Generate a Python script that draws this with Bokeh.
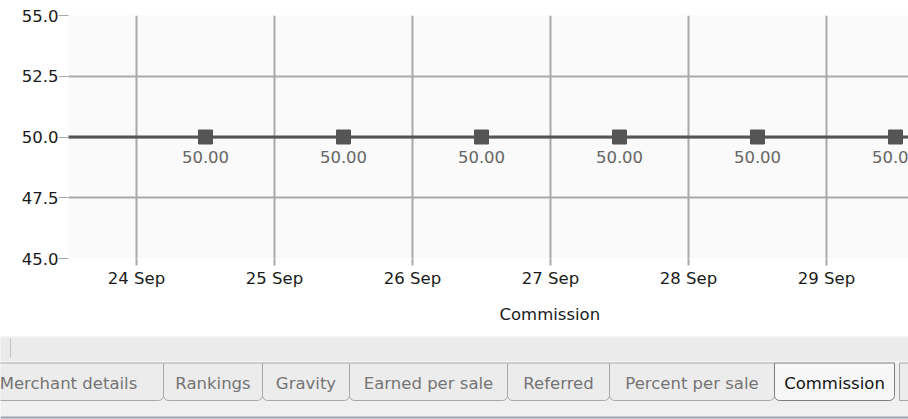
from datetime import datetime, timedelta

from bokeh.plotting import figure
from bokeh.layouts import column, row
from bokeh.models import (ColumnDataSource, Range1d, FixedTicker, DaysTicker,
                          DatetimeTickFormatter, PrintfTickFormatter, Title,
                          CDSView, BooleanFilter)
from bokeh.core.properties import value
from bokeh.embed import file_html
from bokeh.resources import INLINE

# ---------------- data ----------------
dates = ["2009-09-23 12:00", "2009-09-24 12:00", "2009-09-25 12:00",
         "2009-09-26 12:00", "2009-09-27 12:00", "2009-09-28 12:00",
         "2009-09-29 12:00", "2009-09-30 12:00"]
commission = [50.0, 50.0, 50.0, 50.0, 50.0, 50.0, 50.0, 50.0]
point_labels = ["50.00", "50.00", "50.00", "50.00", "50.00", "50.00",
                "50.00", "50.00"]
y_ticks = [45.0, 47.5, 50.0, 52.5, 55.0]
axis_title = "Commission"
tab_labels = ["Merchant details", "Rankings", "Gravity", "Earned per sale",
              "Referred", "Percent per sale", "Commission"]
selected_tab = "Commission"

# ---------------- layout / style ----------------
FONT = value("DejaVu Sans")
FS = "16.5px"
W = 908
CHART_H = 336
TABS_H = 419 - CHART_H
PX_PER_DAY = 138.0
FRAME_LEFT = 68
FRAME_TOP = 15
FRAME_BOTTOM = 258
FRAME_W = W - FRAME_LEFT

dts = [datetime.strptime(d, "%Y-%m-%d %H:%M") for d in dates]
first_day = datetime(2009, 9, 24)
x_start = first_day - timedelta(days=68 / PX_PER_DAY)
x_end = x_start + timedelta(days=FRAME_W / PX_PER_DAY)
shown = [(x_start + timedelta(hours=1.5)) <= d <= x_end for d in dts]

src = ColumnDataSource(dict(x=dts, y=commission, lab=point_labels))
view = CDSView(filter=BooleanFilter(shown))

p = figure(width=W, height=CHART_H, x_axis_type="datetime",
           x_range=Range1d(x_start, x_end), y_range=Range1d(45, 55),
           toolbar_location=None, output_backend="svg",
           min_border_left=FRAME_LEFT, min_border_right=0,
           min_border_top=FRAME_TOP, min_border_bottom=CHART_H - FRAME_BOTTOM,
           background_fill_color="#fafafa", border_fill_color="white",
           outline_line_color=None)

p.line("x", "y", source=src, line_color="#555555", line_width=3)
p.scatter("x", "y", source=src, view=view, marker="square", size=14,
          fill_color="#555555", line_color="#555555")
p.text("x", "y", text="lab", source=src, view=view, text_align="center",
       text_baseline="middle", y_offset=20, text_color="#666666",
       text_font=FONT, text_font_size=FS)

# axes
days_ticker = DaysTicker(days=list(range(1, 32)))
p.xaxis.ticker = days_ticker
p.xgrid.ticker = days_ticker
p.xaxis.formatter = DatetimeTickFormatter(days="%d %b", months="%d %b",
                                          hours="%d %b")
p.yaxis.ticker = FixedTicker(ticks=y_ticks)
p.ygrid.ticker = FixedTicker(ticks=y_ticks)
p.yaxis.formatter = PrintfTickFormatter(format="%.1f")

for ax in (p.xaxis, p.yaxis):
    ax.axis_line_color = None
    ax.minor_tick_line_color = None
    ax.major_tick_in = 0
    ax.major_tick_line_color = "#aaaaaa"
    ax.major_label_text_font = "DejaVu Sans"
    ax.major_label_text_font_size = FS
    ax.major_label_text_color = "#1a1a1a"
p.yaxis.major_tick_out = 10
p.yaxis.major_tick_line_width = 1
p.yaxis.major_label_standoff = 0
p.xaxis.major_tick_out = 7
p.xaxis.major_tick_line_width = 2
p.xaxis.major_label_standoff = 3

p.xgrid.grid_line_color = "#a9a9a9"
p.xgrid.grid_line_width = 2
p.ygrid.grid_line_color = "#a9a9a9"
p.ygrid.grid_line_width = 2

# axis title: centred under the full (scrolled) chart width
p.add_layout(Title(text=axis_title, align="left", offset=431,
                   standoff=25, text_font="DejaVu Sans", text_font_size=FS,
                   text_font_style="normal", text_color="#1a1a1a"), "below")

# ---------------- tab strip ----------------
BAR_H = 26
t = figure(width=W, height=TABS_H, x_range=Range1d(0, W),
           y_range=Range1d(TABS_H, 0), toolbar_location=None,
           output_backend="svg", min_border=0, outline_line_color=None,
           background_fill_color="#f0f0f0", border_fill_color="#f0f0f0")
t.axis.visible = False
t.grid.visible = False

t.quad(left=[0], right=[W], top=[0], bottom=[BAR_H], fill_color="#ebebeb",
       line_color=None)
t.segment(x0=[0], y0=[0.5], x1=[W], y1=[0.5], line_color="#f7f7f7",
          line_width=1)
t.segment(x0=[0], y0=[BAR_H - 0.5], x1=[W], y1=[BAR_H - 0.5],
          line_color="#fbfbfb", line_width=1)
t.segment(x0=[10], y0=[2], x1=[10], y1=[21], line_color="#c4c4c4",
          line_width=1)

tab_edges = [-27, 163, 262, 349, 507, 609, 774, 894]
lefts = tab_edges[:-1]
rights = tab_edges[1:]
is_sel = [lab == selected_tab for lab in tab_labels]
n = len(tab_labels)
tsrc = ColumnDataSource(dict(
    left=lefts, right=rights,
    top=[BAR_H + 0.5] * n, bottom=[BAR_H + 38] * n,
    cx=[(a + b) / 2 for a, b in zip(lefts, rights)],
    cy=[BAR_H + 21] * n,
    lab=tab_labels,
    fill=["#f7f7f7" if s else "#ececec" for s in is_sel],
    line=["#7c7c7c" if s else "#a8a8a8" for s in is_sel],
    tcol=["#111111" if s else "#747474" for s in is_sel],
))
t.quad(left="left", right="right", top="top", bottom="bottom", source=tsrc,
       fill_color="fill", line_color="line", line_width=1,
       border_radius=(0, 0, 5, 5))
t.quad(left=[899], right=[970], top=[BAR_H + 0.5], bottom=[BAR_H + 38],
       fill_color="#ececec", line_color="#a8a8a8", line_width=1)
t.text("cx", "cy", text="lab", source=tsrc, text_align="center",
       text_baseline="middle", text_color="tcol", text_font=FONT,
       text_font_size=FS)
t.segment(x0=[0], y0=[TABS_H - 2], x1=[W], y1=[TABS_H - 2],
          line_color="#9ca5b4", line_width=2)

layout = column(p, row(t), spacing=0)
open("out.html", "w").write(file_html(layout, INLINE))
